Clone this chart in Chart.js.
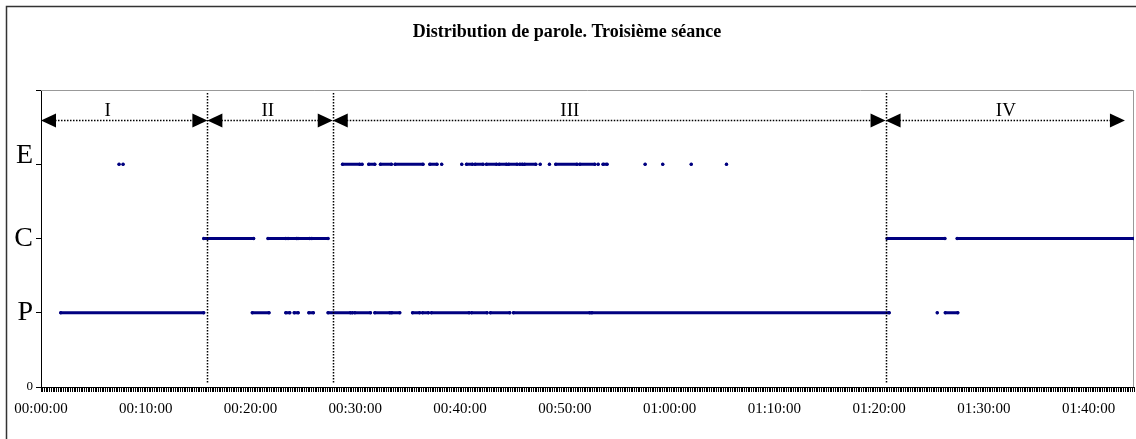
<!DOCTYPE html>
<html>
<head>
<meta charset="utf-8">
<script src="https://cdn.jsdelivr.net/npm/chart.js@4/dist/chart.umd.min.js"></script>
<style>
body { margin: 0; background: #fff; }
</style>
</head>
<body>
<canvas id="myChart" width="1136" height="439"></canvas>
<script>
// speaking turns in seconds from the start, [start, end] or [t] for a single dot
let levelNames = ["0", "P", "C", "E", ""];
let pSegments = [
    [113, 932], [1210, 1306], [1402, 1425], [1450, 1473], [1534, 1560],
    [1644, 1772], [1784], [1797, 1887], [1912, 1998], [2009, 2055],
    [2128, 2169], [2185, 2219], [2236, 2452], [2466, 2555], [2574, 2685],
    [2706, 3143], [3155, 4858], [5133], [5179, 5251]
];
let cSegments = [
    [932, 1218], [1300, 1402], [1415, 1463], [1472, 1539], [1551, 1644],
    [4846, 5177], [5247, 6256]
];
let eSegments = [
    [447], [470], [1727, 1826], [1839], [1877, 1912], [1944, 2007], [2028, 2188],
    [2227, 2268], [2295], [2410], [2437, 2471], [2486, 2532], [2551, 2609],
    [2624, 2666], [2678, 2727], [2742, 2758], [2769, 2834], [2859], [2912],
    [2948, 3070], [3086, 3172], [3191], [3219, 3242], [3460], [3561], [3724], [3926]
];
let sectionBounds = [0, 953, 1671, 4837, 6208];
let sectionNames = ["I", "II", "III", "IV"];
let sectionLabelAt = [382, 1299, 3029, 5526];
let arrowLevel = 3.6;
let labelLevel = 3.72;
let xMax = 6260;

let serif = "'Liberation Serif', 'Times New Roman', serif";
let navy = "#000080";

function toPoints(segments, level) {
    let pts = [];
    segments.forEach(s => {
        pts.push({ x: s[0], y: level });
        if (s.length > 1) pts.push({ x: s[1], y: level });
        pts.push({ x: s[s.length - 1], y: null });
    });
    return pts;
}

function hms(v) {
    let h = Math.floor(v / 3600);
    let m = Math.floor((v % 3600) / 60);
    let s = v % 60;
    return [h, m, s].map(n => String(n).padStart(2, "0")).join(":");
}

function series(segments, level) {
    return {
        data: toPoints(segments, level),
        showLine: true,
        spanGaps: false,
        borderColor: navy,
        backgroundColor: navy,
        borderWidth: 3,
        borderCapStyle: "round",
        pointRadius: 1.7,
        pointBorderWidth: 0,
        pointHoverRadius: 1.7
    };
}

let frame = {
    id: "frame",
    beforeDraw(chart) {
        let ctx = chart.ctx;
        ctx.save();
        ctx.fillStyle = "#fff";
        ctx.fillRect(0, 0, chart.width, chart.height);
        ctx.strokeStyle = "#333";
        ctx.lineWidth = 1.5;
        ctx.strokeRect(6.5, 6.5, chart.width + 20, chart.height + 20);
        ctx.restore();
    },
    beforeDatasetsDraw(chart) {
        let a = chart.chartArea;
        let ctx = chart.ctx;
        ctx.save();
        ctx.strokeStyle = "#999";
        ctx.lineWidth = 1;
        ctx.beginPath();
        ctx.moveTo(a.left, a.top + 0.5);
        ctx.lineTo(a.right - 0.5, a.top + 0.5);
        ctx.lineTo(a.right - 0.5, a.bottom);
        ctx.stroke();
        ctx.restore();
    }
};

function arrowHead(ctx, x, y, dir) {
    ctx.beginPath();
    ctx.moveTo(x, y);
    ctx.lineTo(x - dir * 15, y - 7);
    ctx.lineTo(x - dir * 15, y + 7);
    ctx.closePath();
    ctx.fill();
}

let sections = {
    id: "sections",
    afterDatasetsDraw(chart) {
        let ctx = chart.ctx;
        let xs = chart.scales.x;
        let ys = chart.scales.y;
        let ay = Math.round(ys.getPixelForValue(arrowLevel)) + 0.5;
        ctx.save();
        ctx.strokeStyle = "#000";
        ctx.fillStyle = "#000";
        ctx.lineWidth = 1.5;
        ctx.setLineDash([1.5, 1.5]);

        // dotted dividers
        for (let i = 1; i < sectionBounds.length - 1; i++) {
            let x = Math.round(xs.getPixelForValue(sectionBounds[i])) + 0.5;
            ctx.beginPath();
            ctx.moveTo(x, ys.getPixelForValue(3.96));
            ctx.lineTo(x, ys.getPixelForValue(0.05));
            ctx.stroke();
        }

        // dotted arrows
        for (let i = 0; i < sectionNames.length; i++) {
            let x1 = xs.getPixelForValue(sectionBounds[i]);
            let x2 = xs.getPixelForValue(sectionBounds[i + 1]);
            ctx.setLineDash([1.5, 1.5]);
            ctx.beginPath();
            ctx.moveTo(x1 + 14, ay);
            ctx.lineTo(x2 - 14, ay);
            ctx.stroke();
            ctx.setLineDash([]);
            arrowHead(ctx, x1, ay, -1);
            arrowHead(ctx, x2, ay, 1);
        }

        ctx.font = "19px " + serif;
        ctx.textAlign = "center";
        ctx.textBaseline = "middle";
        sectionNames.forEach((name, i) => {
            ctx.fillText(name, xs.getPixelForValue(sectionLabelAt[i]), ys.getPixelForValue(labelLevel));
        });
        ctx.restore();
    }
};

new Chart(document.getElementById("myChart"), {
    type: "scatter",
    data: {
        datasets: [
            series(pSegments, 1),
            series(cSegments, 2),
            series(eSegments, 3)
        ]
    },
    options: {
        responsive: false,
        animation: false,
        events: [],
        layout: { padding: { left: 0, right: 2, top: 0, bottom: 0 } },
        plugins: {
            legend: { display: false },
            tooltip: { enabled: false },
            title: {
                display: true,
                text: "Distribution de parole. Troisième séance",
                color: "#000",
                font: { family: serif, size: 18, weight: "bold", lineHeight: 1.2 },
                padding: { top: 22, bottom: 46.4 }
            }
        },
        scales: {
            x: {
                type: "linear",
                min: 0,
                max: xMax,
                afterFit(scale) {
                    scale.height = 52;
                    scale.paddingLeft = 0;
                    scale.paddingRight = 0;
                },
                border: { color: "#000", width: 1 },
                grid: {
                    drawOnChartArea: false,
                    drawTicks: true,
                    tickLength: 5,
                    color: "#000"
                },
                ticks: {
                    stepSize: 10,
                    autoSkip: false,
                    maxRotation: 0,
                    padding: 8,
                    color: "#000",
                    font: { family: serif, size: 15 },
                    callback: v => (v % 600 === 0 ? hms(v) : "")
                }
            },
            y: {
                min: 0,
                max: 4,
                afterFit(scale) { scale.width = 41; },
                border: { color: "#000", width: 1 },
                grid: {
                    drawOnChartArea: false,
                    drawTicks: true,
                    tickLength: 5,
                    color: "#000"
                },
                ticks: {
                    stepSize: 1,
                    padding: 3,
                    color: "#000",
                    font: ctx => ({
                        family: serif,
                        size: ctx.tick && ctx.tick.value === 0 ? 13 : 28,
                        lineHeight: "18px"
                    }),
                    callback: v => (v === 3 ? ["E", ""] : levelNames[v])
                }
            }
        }
    },
    plugins: [frame, sections]
});
</script>
</body>
</html>
